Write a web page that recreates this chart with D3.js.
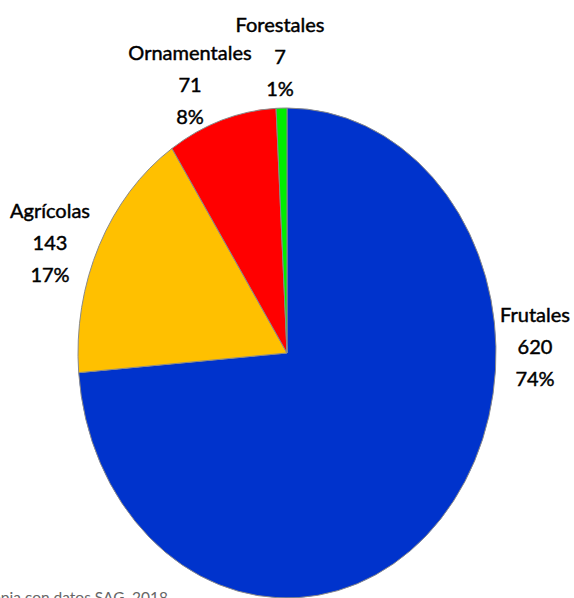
<!DOCTYPE html>
<html><head><meta charset="utf-8">
<script src="https://cdn.jsdelivr.net/npm/d3@7"></script>
<style>html,body{margin:0;padding:0;background:#fff;overflow:hidden}</style>
</head><body>
<svg id="c" width="574" height="598"></svg>
<script>
const categories = ["Frutales", "Agrícolas", "Ornamentales", "Forestales"];
const values = [620, 143, 71, 7];
const percentLabels = ["74%", "17%", "8%", "1%"];
const colors = ["#0033CC", "#FFC000", "#FF0000", "#00EE00"];
const sourceNote = "Elaboración propia con datos SAG, 2018";

const svg = d3.select("#c");
const cx = 287, cy = 353, rx = 209, ry = 245;

const pie = d3.pie().sort(null).value(d => d)(values);
const arc = d3.arc().innerRadius(0).outerRadius(ry);

const g = svg.append("g").attr("transform", `translate(${cx},${cy}) scale(${rx/ry},1)`);
g.selectAll("path").data(pie).enter().append("path")
  .attr("d", arc)
  .attr("fill", (d, i) => colors[i])
  .attr("stroke", "#8a8a8a")
  .attr("stroke-width", 1)
  .attr("vector-effect", "non-scaling-stroke");

// label placement (layout, not data)
const labelPos = [[535, 322], [50, 218], [190, 60], [280, 32]];
const lineH = 32;
const lbl = svg.append("g").attr("font-family", "Lato, 'Open Sans', sans-serif")
  .attr("font-size", 20).attr("fill", "#000").attr("stroke", "#000").attr("stroke-width", 0.45)
  .attr("text-anchor", "middle");
categories.forEach((c, i) => {
  const [x, y] = labelPos[i];
  const t = lbl.append("text").attr("x", x).attr("y", y);
  [c, String(values[i]), percentLabels[i]].forEach((s, k) => {
    t.append("tspan").attr("x", x).attr("y", y + k * lineH).text(s);
  });
});

svg.append("text").attr("x", 168).attr("y", 603).attr("text-anchor", "end")
  .attr("font-family", "Lato, 'Open Sans', sans-serif").attr("font-size", 15.5)
  .attr("fill", "#666").text(sourceNote);
</script>
</body></html>
